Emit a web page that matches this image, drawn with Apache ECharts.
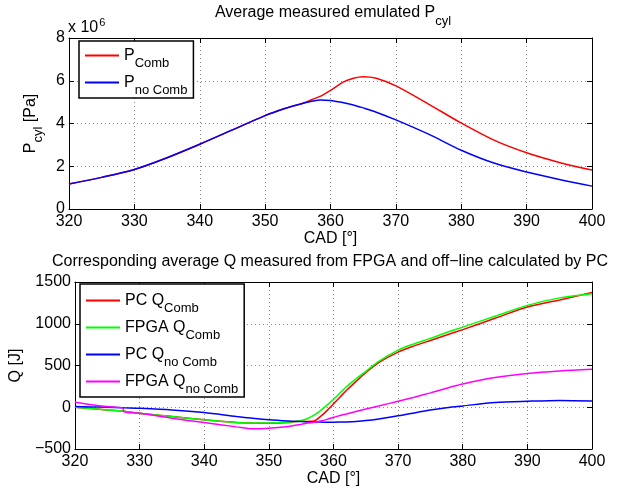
<!DOCTYPE html>
<html><head><meta charset="utf-8">
<script src="https://cdn.jsdelivr.net/npm/echarts@6/dist/echarts.min.js"></script>
<style>html,body{margin:0;padding:0;background:#fff}#c{width:618px;height:491px}</style>
</head><body><div id="c"></div>
<script>
// ---- data (top: pressure in units of 1e6 Pa) ----
const cadTop  = [320,325,330,335,340,345,350,353,355,356,357,358.5,360,362,363.5,365,367,370,375,380,385,390,395,400];
const pComb   = [1.17,1.48,1.85,2.40,3.03,3.70,4.37,4.70,4.88,4.97,5.10,5.28,5.55,5.95,6.12,6.19,6.12,5.76,4.91,4.02,3.22,2.63,2.18,1.82];
const pNoComb = [1.17,1.48,1.85,2.40,3.03,3.70,4.37,4.70,4.88,4.96,5.03,5.10,5.08,4.97,4.87,4.73,4.53,4.17,3.50,2.75,2.15,1.73,1.38,1.07];
// ---- data (bottom: heat Q in J) ----
const cadQ        = [320,322.5,325,327.4,327.6,330,335,340,345,347.5,350,353,355,356,357,358,359,360,361,362,363.5,365,367,370,372.5,375,377.5,380,385,390,395,400];
const qPcComb     = [0,-15,-32,-45,-48,-73,-112,-151,-184,-190,-192,-182,-165,-170,-165,-110,-40,40,120,200,310,415,535,660,735,800,865,930,1065,1200,1285,1375];
const qFpgaComb   = [0,-15,-32,-45,-48,-72,-111,-150,-182,-188,-190,-180,-160,-135,-95,-40,25,95,170,245,340,430,550,685,760,825,895,960,1090,1220,1310,1360];
const qPcNoComb   = [8,4,0,-5,-6,-12,-32,-64,-111,-132,-150,-165,-172,-175,-177,-178,-179,-179,-178,-176,-170,-160,-140,-103,-68,-32,-5,16,56,72,82,76];
const qFpgaNoComb = [60,30,8,-10,-55,-72,-131,-183,-235,-258,-252,-230,-205,-190,-180,-165,-145,-120,-100,-80,-50,-22,15,72,120,172,228,278,355,405,435,455];
// ---- axes ----
const xRange = [320, 400], xStep = 10;
const yTopRange = [0, 8], yTopStep = 2;
const yBotRange = [-500, 1500], yBotStep = 500;
const titles = ['Average measured emulated P{sub|cyl}', 'Corresponding average Q measured from FPGA and off\u2212line calculated by PC'];
const namesTop = ['P Comb', 'P no Comb'];
const namesBot = ['PC Q Comb', 'FPGA Q Comb', 'PC Q no Comb', 'FPGA Q no Comb'];
const legendFmt = {
  'P Comb': 'P{sub|Comb}', 'P no Comb': 'P{sub|no Comb}',
  'PC Q Comb': 'PC Q{sub|Comb}', 'FPGA Q Comb': 'FPGA Q{sub|Comb}',
  'PC Q no Comb': 'PC Q{sub|no Comb}', 'FPGA Q no Comb': 'FPGA Q{sub|no Comb}'
};
const colors = {'P Comb':'#ff0000','P no Comb':'#0000ff','PC Q Comb':'#ff0000','FPGA Q Comb':'#00ff00','PC Q no Comb':'#0000ff','FPGA Q no Comb':'#ff00ff'};

const FONT = 'Liberation Sans, Arial, Helvetica, sans-serif';
const FS = 16;
const zip = (xs, ys) => xs.map((x, i) => [x, ys[i]]);
const subRich = { sub: { fontSize: 13, lineHeight: 13, fontFamily: FONT, color: '#000', padding: [16, 0, 0, 0] } };

function mainX(gi) {
  return { gridIndex: gi, type: 'value', min: xRange[0], max: xRange[1], interval: xStep, position: 'bottom',
    axisLine: { onZero: false, lineStyle: { color: '#000', width: 1 } },
    axisTick: { inside: true, length: 5, lineStyle: { color: '#000' } },
    axisLabel: { color: '#000', fontSize: FS, fontFamily: FONT, margin: 5 },
    splitLine: { show: true, lineStyle: { color: '#888', type: [1, 3], width: 1 } },
    name: 'CAD [\u00b0]', nameLocation: 'middle', nameGap: 22,
    nameTextStyle: { color: '#000', fontSize: FS, fontFamily: FONT } };
}
function boxX(gi) {
  return { gridIndex: gi, type: 'value', min: xRange[0], max: xRange[1], interval: xStep, position: 'top',
    axisLine: { onZero: false, lineStyle: { color: '#000', width: 1 } },
    axisTick: { inside: true, length: 5, lineStyle: { color: '#000' } },
    axisLabel: { show: false }, splitLine: { show: false } };
}
function mainY(gi, r, step, name, gap) {
  return { gridIndex: gi, type: 'value', min: r[0], max: r[1], interval: step, position: 'left',
    axisLine: { show: true, onZero: false, lineStyle: { color: '#000', width: 1 } },
    axisTick: { show: true, inside: true, length: 5, lineStyle: { color: '#000' } },
    axisLabel: { color: '#000', fontSize: FS, fontFamily: FONT, margin: 4,
      formatter: v => v < 0 ? '\u2212' + Math.abs(v) : String(v) },
    splitLine: { show: true, lineStyle: { color: '#888', type: [1, 3], width: 1 } },
    name: name, nameLocation: 'middle', nameGap: gap, nameRotate: 90,
    nameTextStyle: { color: '#000', fontSize: FS, fontFamily: FONT, rich: subRich } };
}
function boxY(gi, r, step) {
  return { gridIndex: gi, type: 'value', min: r[0], max: r[1], interval: step, position: 'right',
    axisLine: { show: true, onZero: false, lineStyle: { color: '#000', width: 1 } },
    axisTick: { show: true, inside: true, length: 5, lineStyle: { color: '#000' } },
    axisLabel: { show: false }, splitLine: { show: false } };
}
function legend(names, left, top, gap, pad) {
  return { data: names.map(n => ({ name: n, itemStyle: { color: colors[n] } })), orient: 'vertical', left: left, top: top,
    icon: 'rect', itemWidth: 34, itemHeight: 2, itemGap: gap,
    backgroundColor: '#fff', borderColor: '#000', borderWidth: 1.5, padding: pad,
    formatter: n => legendFmt[n],
    textStyle: { color: '#000', fontSize: FS, fontFamily: FONT, rich: subRich } };
}
function line(name, data, xi, yi) {
  return { name: name, type: 'line', xAxisIndex: xi, yAxisIndex: yi, data: data,
    showSymbol: false, symbol: 'none', smooth: 0.3, animation: false,
    lineStyle: { color: colors[name], width: 1.5 }, itemStyle: { color: colors[name] } };
}

const chart = echarts.init(document.getElementById('c'), null, { renderer: 'canvas' });
chart.setOption({
  backgroundColor: '#fff',
  animation: false,
  title: [
    { text: titles[0], left: 333, textAlign: 'center', top: 5, padding: 0,
      textStyle: { fontSize: FS, fontWeight: 'normal', color: '#000', fontFamily: FONT, rich: subRich } },
    { text: titles[1], left: 330, textAlign: 'center', top: 254, padding: 0,
      textStyle: { fontSize: FS, fontWeight: 'normal', color: '#000', fontFamily: FONT } }
  ],
  graphic: [{ type: 'text', left: 68, top: 17,
    style: { text: 'x 10{sup|6}', fill: '#000', font: FS + 'px ' + FONT,
      rich: { sup: { fontSize: 11, fontFamily: FONT, padding: [0, 0, 10, 1] } } } }],
  grid: [
    { left: 69, top: 38, width: 523, height: 171, containLabel: false },
    { left: 69, top: 282, width: 523, height: 167, containLabel: false }
  ],
  xAxis: [mainX(0), boxX(0), mainX(1), boxX(1)],
  yAxis: [mainY(0, yTopRange, yTopStep, 'P{sub|cyl} [Pa]', 20), boxY(0, yTopRange, yTopStep),
          mainY(1, yBotRange, yBotStep, 'Q [J]', 44), boxY(1, yBotRange, yBotStep)],
  legend: [legend(namesTop, 79, 41, -2, [0, 6, 1, 6]), legend(namesBot, 80, 284, -2, [2, 6, 1, 6])],
  series: [
    line('P Comb', zip(cadTop, pComb), 0, 0),
    line('P no Comb', zip(cadTop, pNoComb), 0, 0),
    line('PC Q Comb', zip(cadQ, qPcComb), 2, 2),
    line('FPGA Q Comb', zip(cadQ, qFpgaComb), 2, 2),
    line('PC Q no Comb', zip(cadQ, qPcNoComb), 2, 2),
    line('FPGA Q no Comb', zip(cadQ, qFpgaNoComb), 2, 2)
  ]
});
</script></body></html>
